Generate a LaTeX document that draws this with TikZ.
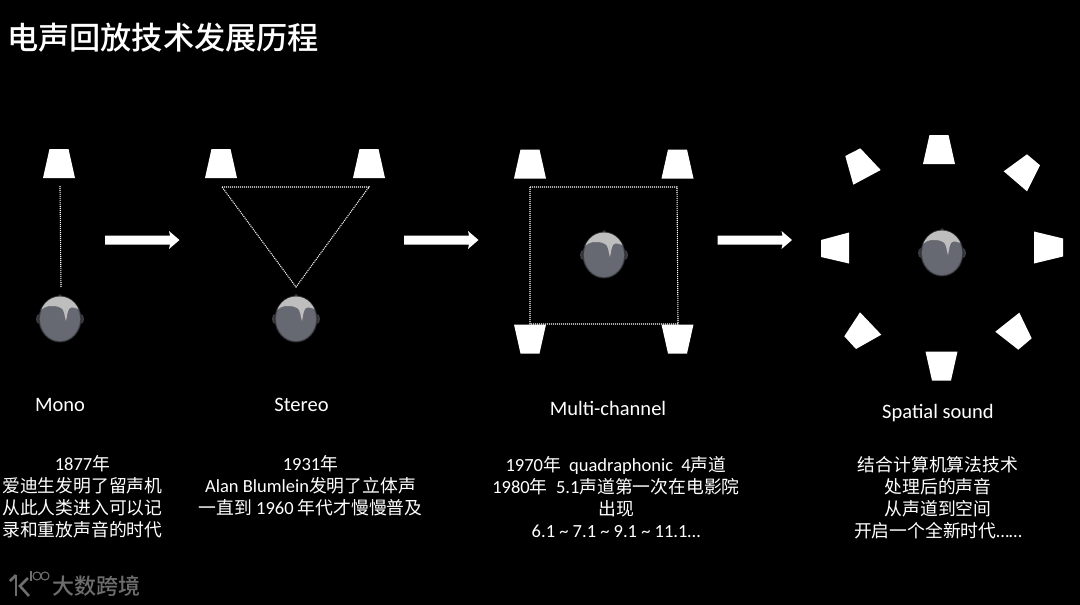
\documentclass[tikz,border=0pt]{standalone}
\usepackage{fontspec}
\setmainfont{Carlito}
\newfontfamily\cjfont{Noto Sans CJK SC}
\newfontfamily\cjbold{Noto Sans CJK SC Medium}
\newcommand{\cj}[1]{{\cjfont\fontsize{17.8}{22}\selectfont #1}}
\usetikzlibrary{calc}
\definecolor{headgrey}{HTML}{666872}
\definecolor{headedge}{HTML}{3A3B40}
\definecolor{hairlight}{HTML}{BEBEBE}
\definecolor{markgrey}{HTML}{6E6E6E}
\tikzset{
  x=1pt,y=-1pt,
  spk/.style={fill=white,draw=none},
  dotline/.style={draw=white,line width=1.1pt,dash pattern=on 1pt off 1pt},
  blockarrow/.style={fill=white,draw=none},
  txt/.style={text=white,align=center,font=\fontsize{18.5}{22}\selectfont,inner sep=0pt},
  lab/.style={text=white,font=\fontsize{20.5}{24}\selectfont,inner sep=0pt},
  head/.pic={
    \fill[headedge] (-21,0) circle[x radius=3,y radius=5];
    \fill[headedge] (21,0) circle[x radius=3,y radius=5];
    \fill[headedge] (-3.5,-21.5) -- (0,-25) -- (3.5,-21.5) -- cycle;
    \fill[headgrey!35!black] (0,0) circle[x radius=21.5,y radius=23.5];
    \fill[headgrey!70!black] (0,0) circle[x radius=20.8,y radius=22.8];
    \fill[headgrey] (0,0) circle[x radius=20,y radius=22];
    \begin{scope}
      \clip (0,0) circle[x radius=20.5,y radius=22.5];
      \fill[hairlight] (-22,-6) .. controls (-18,-11) and (-13,-13.5) .. (-8,-13)
        .. controls (-3,-13) and (1,-12) .. (3,-9) .. controls (4.5,-6) and (5,-1) .. (6,2)
        .. controls (7,-2) and (7,-6) .. (9,-10) .. controls (11,-12.5) and (15,-12) .. (22,-8)
        -- (22,-25) -- (-22,-25) -- cycle;
    \end{scope}
  },
  bararrow/.pic={
    \fill[blockarrow] (0,-4.5) -- (65,-4.5) -- (64,-9) -- (74.5,0) -- (64,9) -- (65,4.5) -- (0,4.5) -- cycle;
  },
  spktop/.pic={\fill[spk] (-9.5,-14.5) -- (9.5,-14.5) -- (16,14.5) -- (-16,14.5) -- cycle;},
  spkbot/.pic={\fill[spk] (-16,-14.5) -- (16,-14.5) -- (9.5,14.5) -- (-9.5,14.5) -- cycle;}
}
\begin{document}
\begin{tikzpicture}
\fill[black] (0,0) rectangle (1080,605);
\useasboundingbox (0,0) rectangle (1080,605);

\node[anchor=west,text=white,inner sep=0pt,font=\cjbold\fontsize{31.2}{34}\selectfont] (title) at (7,38) {电声回放技术发展历程};

% Mono
\pic at (59,163.5) {spktop};
\coordinate (m1) at (60,186);
\coordinate (m2) at (61,287);
\draw[dotline] (m1) -- (m2);
\pic at (60,319) {head};
\pic at (105,240) {bararrow};

% Stereo
\pic at (221,163.5) {spktop};
\pic at (369,163.5) {spktop};
\coordinate (s1) at (222,187);
\coordinate (s2) at (369,187);
\coordinate (s3) at (296,287);
\draw[dotline] (s1) -- (s2) -- (s3) -- cycle;
\pic at (296,319) {head};
\pic at (404,240) {bararrow};

% Multi-channel
\pic at (530,164) {spktop};
\pic at (677.5,164) {spktop};
\pic at (530,339) {spkbot};
\pic at (677.5,339) {spkbot};
\coordinate (c1) at (530,187);
\coordinate (c2) at (677,187);
\coordinate (c3) at (678,324);
\coordinate (c4) at (530,324);
\draw[dotline] (c1) -- (c2) -- (c3) -- (c4) -- cycle;
\pic at (604,255) {head};
\pic at (717.5,240) {bararrow};

% Spatial sound
\pic at (939,149.5) {spktop};
\pic at (941.5,366) {spkbot};
\fill[spk] (821,240) -- (821,257) -- (849,263.5) -- (849,232.5) -- cycle;
\fill[spk] (1063,238.5) -- (1063,256.5) -- (1034,263.5) -- (1034,231.5) -- cycle;
\fill[spk] (845.3,156) -- (860.3,148.3) -- (880.7,170) -- (853.3,184.7) -- cycle;
\fill[spk] (1027,154.3) -- (1040,165.3) -- (1027,191.3) -- (1003.7,171.3) -- cycle;
\fill[spk] (860,312.3) -- (881.3,334.7) -- (856,349) -- (844.3,336.3) -- cycle;
\fill[spk] (1019.3,312.7) -- (1031.7,338.3) -- (1018.3,349.7) -- (995.3,331.7) -- cycle;
\pic at (942,253) {head};

% Labels
\node[lab] (l1) at (60,404.5) {Mono};
\node[lab] (l2) at (301.5,404.5) {Stereo};
\node[lab] (l3) at (608,408.5) {Multi-channel};
\node[lab] (l4) at (938,413) {Spatial sound};

\node[txt] (d1) at (82.5,496.5) {1877\cj{年}\\\cj{爱迪生发明了留声机}\\\cj{从此人类进入可以记}\\\cj{录和重放声音的时代}};
\node[txt] (d2) at (310.5,485.5) {1931\cj{年}\\Alan Blumlein\cj{发明了立体声}\\\cj{一直到} 1960 \cj{年代才慢慢普及}};
\node[txt] (d3) at (616,497.5) {1970\cj{年}\ \ quadraphonic\ \ 4\cj{声道}\\1980\cj{年}\ \ 5.1\cj{声道第一次在电影院}\\\cj{出现}\\6.1 \textasciitilde{} 7.1 \textasciitilde{} 9.1 \textasciitilde{} 11.1…};
\node[txt] (d4) at (938,497.5) {\cj{结合计算机算法技术}\\\cj{处理后的声音}\\\cj{从声道到空间}\\\cj{开启一个全新时代}……};

% Watermark
\draw[markgrey,line width=2.6pt] (16,575) -- (16,596);
\draw[markgrey,line width=2.6pt] (10,581) -- (16,575);
\draw[markgrey,line width=2.6pt] (28,578) -- (20,586) -- (29,596);
\draw[markgrey,line width=1.2pt] (31,571) -- (31,581);
\draw[markgrey,line width=1.1pt] (37,576) circle[radius=4];
\draw[markgrey,line width=1.1pt] (45,576) circle[radius=4];
\node[anchor=west,text=markgrey,inner sep=0pt,font=\cjbold\fontsize{22}{24}\selectfont] (wm) at (52,586) {大数跨境};
\end{tikzpicture}
\end{document}
